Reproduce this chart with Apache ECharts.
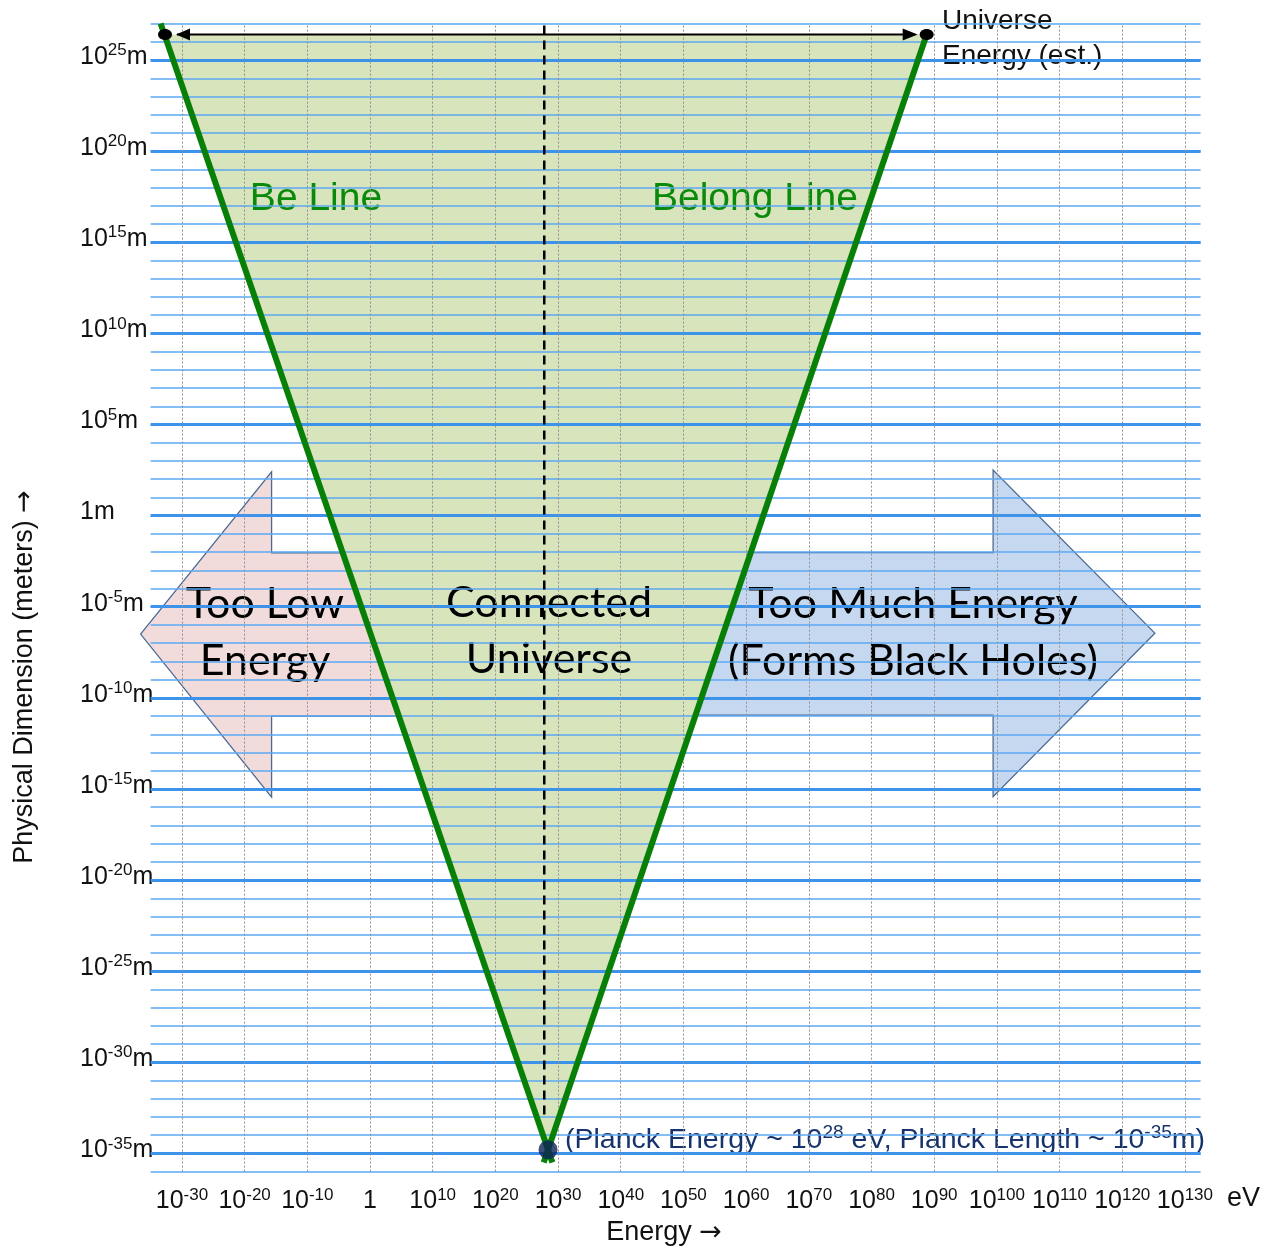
<!DOCTYPE html>
<html>
<head>
<meta charset="utf-8">
<script src="https://cdn.jsdelivr.net/npm/echarts@6/dist/echarts.min.js"></script>
<style>
html,body{margin:0;padding:0;background:#fff;}
#chart{width:1274px;height:1249px;}
</style>
</head>
<body>
<div id="chart"></div>
<script>
// ---- data (log10 values) ----
const energyTicks = [-30,-20,-10,0,10,20,30,40,50,60,70,80,90,100,110,120,130]; // log10(eV)
const lengthTicks = [-35,-30,-25,-20,-15,-10,-5,0,5,10,15,20,25];                 // log10(m)
const beLine = [[-33.4, 27], [29.1, -35.5]];
const belongLine = [[88.8, 26.4], [27.7, -35.5]];
const connectedRegion = [[-32.8, 26.4], [88.8, 26.4], [28.4, -34.8]];
const planckPoint = [28.4, -34.8];
const planckEnergyLine = [[27.8, 26.9], [27.8, -33.1]];
const universeSpan = [[-32.7, 26.4], [88.8, 26.4]];
const lowEnergyArrow = [[-36.6, -6.5], [-15.7, 2.4], [-15.7, -2.05], [20, -2.05], [20, -11.0], [-15.7, -11.0], [-15.7, -15.45]];
const highEnergyArrow = [[125.2, -6.45], [99.4, 2.5], [99.4, -2.03], [40, -2.03], [40, -10.95], [99.4, -10.95], [99.4, -15.42]];

const SANS = '"Liberation Sans", Arial, sans-serif';
const CAL = 'Lato, "Open Sans", sans-serif';
const ARROWF = '"DejaVu Sans", sans-serif';

const supRich = {
  b: {fontSize: 25, lineHeight: 30, fontFamily: SANS, color: '#111'},
  s: {fontSize: 17, lineHeight: 24, verticalAlign: 'top', fontFamily: SANS, color: '#111'}
};

const chart = echarts.init(document.getElementById('chart'), null, {renderer: 'canvas'});

function polyItem(shapes, fills, stroke, lw) {
  return function (params, api) {
    const pts = shapes[params.dataIndex].map(p => api.coord(p));
    return {
      type: 'polygon',
      shape: {points: pts},
      style: {fill: fills[params.dataIndex], stroke: stroke, lineWidth: lw}
    };
  };
}

const option = {
  animation: false,
  backgroundColor: '#ffffff',
  grid: {left: 150.6, top: 23.6, width: 1050, height: 1148},
  xAxis: {
    type: 'value', min: -35, max: 132.5, z: 4,
    axisLine: {show: false}, axisTick: {show: false}, splitLine: {show: false},
    axisLabel: {
      customValues: energyTicks,
      margin: 15,
      formatter: v => v === 0 ? '{b|1}' : '{b|10}{s|' + v + '}',
      rich: supRich
    }
  },
  yAxis: {
    type: 'value', min: -36, max: 27, interval: 1, z: 4,
    axisLine: {show: false}, axisTick: {show: false},
    splitLine: {show: true, lineStyle: {color: '#5ba9f3', width: 1.5}},
    axisLabel: {
      customValues: lengthTicks,
      align: 'left', margin: 70.6,
      padding: [0, 0, 6, 0],
      formatter: v => v === 0 ? '{b|1m}' : '{b|10}{s|' + v + '}{b|m}',
      rich: supRich
    }
  },
  graphic: {
    elements: [
      {type: 'text', x: 316, y: 199, z: 3, style: {text: 'Be Line', fill: '#0a8a0a', fontSize: 39, fontFamily: SANS, align: 'center', verticalAlign: 'middle'}},
      {type: 'text', x: 755, y: 199, z: 3, style: {text: 'Belong Line', fill: '#0a8a0a', fontSize: 39, fontFamily: SANS, align: 'center', verticalAlign: 'middle'}},
      {type: 'text', x: 942, y: 21, z: 3, style: {text: 'Universe', fill: '#111', fontSize: 28, fontFamily: SANS, align: 'left', verticalAlign: 'middle'}},
      {type: 'text', x: 942, y: 56, z: 3, style: {text: 'Energy (est.)', fill: '#111', fontSize: 28, fontFamily: SANS, align: 'left', verticalAlign: 'middle'}},
      {type: 'text', x: 265, y: 604, z: 3, style: {text: 'Too Low', fill: '#000', fontSize: 43, fontFamily: CAL, align: 'center', verticalAlign: 'middle'}},
      {type: 'text', x: 265, y: 661, z: 3, style: {text: 'Energy', fill: '#000', fontSize: 43, fontFamily: CAL, align: 'center', verticalAlign: 'middle'}},
      {type: 'text', x: 549, y: 603, z: 3, style: {text: 'Connected', fill: '#000', fontSize: 43, fontFamily: CAL, align: 'center', verticalAlign: 'middle'}},
      {type: 'text', x: 549, y: 659, z: 3, style: {text: 'Universe', fill: '#000', fontSize: 43, fontFamily: CAL, align: 'center', verticalAlign: 'middle'}},
      {type: 'text', x: 913, y: 604, z: 3, style: {text: 'Too Much Energy', fill: '#000', fontSize: 43, fontFamily: CAL, align: 'center', verticalAlign: 'middle'}},
      {type: 'text', x: 913, y: 661, z: 3, style: {text: '(Forms Black Holes)', fill: '#000', fontSize: 43, fontFamily: CAL, align: 'center', verticalAlign: 'middle'}},
      {type: 'text', x: 565, y: 1140, z: 3, style: {
        text: '(Planck Energy ~ 10{s|28} eV, Planck Length ~ 10{s|-35}m)',
        fill: '#16336b', fontSize: 28.5, lineHeight: 34, fontFamily: SANS, align: 'left', verticalAlign: 'middle',
        rich: {s: {fontSize: 19, lineHeight: 27, verticalAlign: 'top', fontFamily: SANS, fill: '#16336b', color: '#16336b'}}
      }},
      {type: 'text', x: 1227, y: 1199, z: 3, style: {text: 'eV', fill: '#111', fontSize: 27, fontFamily: SANS, align: 'left', verticalAlign: 'middle'}},
      {type: 'text', x: 664, y: 1233, z: 3, style: {
        text: 'Energy {a|→}', fill: '#111', fontSize: 27, fontFamily: SANS, align: 'center', verticalAlign: 'middle',
        rich: {a: {fontFamily: ARROWF, fontSize: 27, fill: '#111'}}
      }},
      {type: 'text', x: 25, y: 677, z: 3, rotation: Math.PI / 2, style: {
        text: 'Physical Dimension (meters) {a|→}', fill: '#111', fontSize: 27, fontFamily: SANS, align: 'center', verticalAlign: 'middle',
        rich: {a: {fontFamily: ARROWF, fontSize: 27, fill: '#111'}}
      }}
    ]
  },
  series: [
    {
      type: 'custom', z: 1, clip: false, silent: true,
      data: [0, 1],
      renderItem: polyItem([lowEnergyArrow, highEnergyArrow], ['#f2dcdb', '#c6d8f0'], '#4a6a94', 1.3)
    },
    {
      type: 'custom', z: 2, clip: false, silent: true,
      data: [0],
      renderItem: polyItem([connectedRegion], ['#d8e4bc'], 'none', 0)
    },
    {
      type: 'line', z: 5, data: [], silent: true,
      markLine: {
        silent: true, symbol: 'none', animation: false, label: {show: false},
        data: lengthTicks.map(v => ({yAxis: v, lineStyle: {color: '#3d93ea', width: 3, type: 'solid'}}))
          .concat(energyTicks.map(v => ({xAxis: v, lineStyle: {color: '#8f8f8f', width: 1, type: [2, 2]}})))
      }
    },
    {
      type: 'line', z: 10, data: beLine, symbol: 'none', silent: true,
      lineStyle: {color: '#088008', width: 6}
    },
    {
      type: 'line', z: 10, data: belongLine, symbol: 'none', silent: true,
      lineStyle: {color: '#088008', width: 6}
    },
    {
      type: 'line', z: 10, data: planckEnergyLine, symbol: 'none', silent: true,
      lineStyle: {color: '#000', width: 2.5, type: [9, 6]}
    },
    {
      type: 'custom', z: 11, clip: false, silent: true,
      data: [0],
      renderItem: function (params, api) {
        const a = api.coord(universeSpan[0]);
        const b = api.coord(universeSpan[1]);
        const y = a[1];
        return {
          type: 'group',
          children: [
            {type: 'line', shape: {x1: a[0] + 12, y1: y, x2: b[0] - 12, y2: b[1]}, style: {stroke: '#000', lineWidth: 2}},
            {type: 'polygon', shape: {points: [[a[0] + 11, y], [a[0] + 25, y - 6], [a[0] + 25, y + 6]]}, style: {fill: '#000'}},
            {type: 'polygon', shape: {points: [[b[0] - 9, b[1]], [b[0] - 24, b[1] - 6], [b[0] - 24, b[1] + 6]]}, style: {fill: '#000'}},
            {type: 'ellipse', shape: {cx: a[0], cy: y, rx: 7, ry: 5.5}, style: {fill: '#000'}},
            {type: 'ellipse', shape: {cx: b[0], cy: b[1], rx: 7, ry: 5.5}, style: {fill: '#000'}}
          ]
        };
      }
    },
    {
      type: 'scatter', z: 12, silent: true,
      data: [planckPoint], symbol: 'circle', symbolSize: 19,
      itemStyle: {color: '#0c2358'}
    }
  ]
};
chart.setOption(option);
</script>
</body>
</html>
